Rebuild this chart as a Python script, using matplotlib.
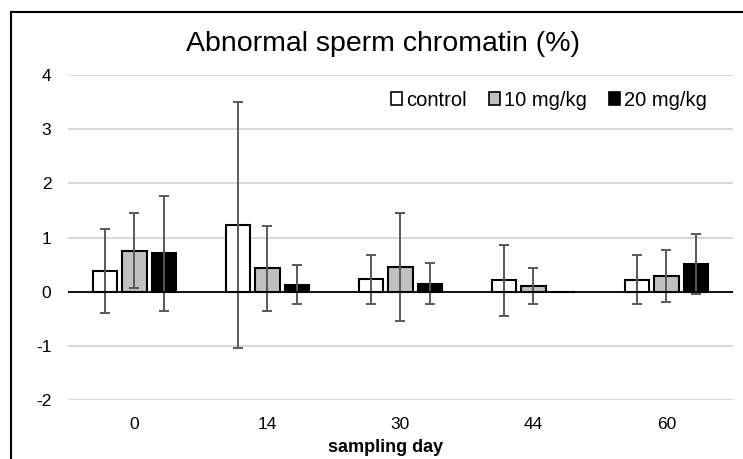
###################################################
# bar chart of abnormal sperm chromatin by sampling day
###################################################
import matplotlib
matplotlib.use("Agg")
import matplotlib.pyplot as plt
from matplotlib.lines import Line2D
import numpy as np

plt.rcParams['font.family'] = ['Liberation Sans', 'DejaVu Sans']
plt.rcParams['axes.unicode_minus'] = False

# data
days = ["0", "14", "30", "44", "60"]
groups = ["control", "10 mg/kg", "20 mg/kg"]
control_mean = [0.38, 1.23, 0.23, 0.21, 0.22]
control_sd = [0.78, 2.27, 0.45, 0.66, 0.45]
mid_mean = [0.76, 0.43, 0.45, 0.11, 0.29]
mid_sd = [0.70, 0.78, 1.00, 0.33, 0.48]
high_mean = [0.71, 0.13, 0.15, 0.0, 0.51]
high_sd = [1.06, 0.36, 0.38, 0.0, 0.56]

colors = ["white", "#c0c0c0", "black"]

fig = plt.figure(figsize=(7.43, 4.59), dpi=100)
ax = fig.add_axes([0.0915, 0.1285, 0.895, 0.708])

x = np.arange(len(days))
width = 0.187
step = 0.222
means = [control_mean, mid_mean, high_mean]
sds = [control_sd, mid_sd, high_sd]
for i in range(3):
    pos = x + (i - 1) * step
    vals = np.array(means[i])
    err = np.array(sds[i])
    show = err > 0
    ax.bar(pos, vals, width, color=colors[i], edgecolor="black",
           linewidth=1.5, label=groups[i], zorder=3)
    ax.errorbar(pos[show], vals[show], yerr=err[show], fmt="none",
                ecolor="#595959", elinewidth=1.4, capsize=3.5,
                capthick=1.4, zorder=4)

ax.axhline(0, color="black", linewidth=1.3, zorder=5)
ax.set_ylim(-2, 4)
ax.set_xlim(-0.5, len(days) - 0.5)
ax.set_yticks(range(-2, 5))
ax.set_xticks(x)
ax.set_xticklabels(days)
ax.yaxis.grid(True, color="#d9d9d9", linewidth=1.5, zorder=0)
ax.set_axisbelow(True)
for s in ax.spines.values():
    s.set_visible(False)
ax.tick_params(axis="both", length=0, labelsize=12.5, colors="black")
ax.tick_params(axis="y", pad=12)
ax.tick_params(axis="x", pad=12)

# axis label and title placed in figure coordinates
fig.text(0.5195, 0.026, "sampling day", fontsize=13, fontweight="bold",
         family=["Liberation Sans Narrow", "Liberation Sans"],
         ha="center", va="center")
fig.text(0.5155, 0.905, "Abnormal sperm chromatin (%)", fontsize=20.5,
         ha="center", va="center")

leg = ax.legend(loc="upper right", bbox_to_anchor=(0.988, 1.008), ncol=3,
                frameon=False, fontsize=14.5, handlelength=0.55,
                handleheight=0.55, handletextpad=0.2, columnspacing=1.1)
for h in leg.legend_handles:
    h.set_linewidth(1.2)

# outer frame on the left and top
fig.add_artist(Line2D([0.0148, 0.0148], [0.0, 0.974], color="black",
                      linewidth=1.5, transform=fig.transFigure))
fig.add_artist(Line2D([0.0148, 1.0], [0.974, 0.974], color="black",
                      linewidth=1.5, transform=fig.transFigure))

fig.savefig("out.png", dpi=100)
